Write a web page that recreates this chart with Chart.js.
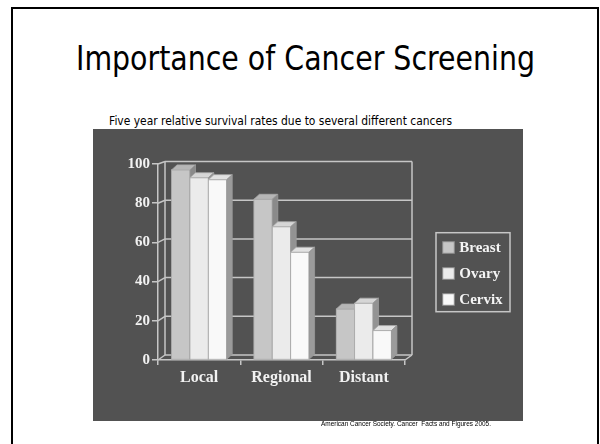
<!DOCTYPE html>
<html><head><meta charset="utf-8">
<script src="https://cdn.jsdelivr.net/npm/chart.js@4"></script>
<style>
html,body{margin:0;padding:0;background:#fff;width:600px;height:444px;overflow:hidden}
#frame{position:absolute;left:11px;top:7px;width:584px;height:470px;border:2px solid #000;box-sizing:content-box}
.t{position:absolute;white-space:nowrap;transform-origin:0 0;line-height:1;color:#000}
#title{font-family:"DejaVu Sans";font-size:33px;left:76px;top:42px}
#sub{font-family:"DejaVu Sans";font-size:11.4px;left:109px;top:116px}
#src{font-family:"Liberation Sans";font-size:7px;left:321px;top:420px}
#panel{position:absolute;left:93px;top:129px;width:430px;height:292px;background:#525252}
canvas{display:block}
</style></head>
<body>
<div id="frame"></div>
<div class="t" id="title" data-w="459">Importance of Cancer Screening</div>
<div class="t" id="sub" data-w="343">Five year relative survival rates due to several different cancers</div>
<div id="panel"><canvas id="c" width="430" height="292"></canvas></div>
<div class="t" id="src" data-w="170">American Cancer Society. Cancer&nbsp; Facts and Figures 2005.</div>
<script>
// ---- data ----
const categories = ['Local', 'Regional', 'Distant'];
const seriesNames = ['Breast', 'Ovary', 'Cervix'];
const breast = [97, 82, 26];
const ovary = [93, 68, 29];
const cervix = [92, 55, 15];
const yTickValues = [0, 20, 40, 60, 80, 100];

// ---- styles ----
const frontColors = ['#c6c6c6', '#ebebeb', '#f9f9f9'];
const topColors = ['#b6b6b6', '#d6d6d6', '#e2e2e2'];
const sideColors = ['#8a8a8a', '#939393', '#9b9b9b'];
const LINE = '#c6c6c6';
const WALL = {dx: 7, dyTop: -2.5, dyBot: -5};
const BAR = {dx: 5.5, dy: -5};

function fitTexts(){
  document.querySelectorAll('.t').forEach(el => {
    el.style.transform = 'none';
    const nat = el.getBoundingClientRect().width;
    el.style.transform = 'scaleX(' + (+el.dataset.w / nat) + ')';
  });
}
fitTexts();
if (document.fonts && document.fonts.ready) document.fonts.ready.then(fitTexts);

function backY(scale, v){
  const f = scale.getPixelForValue(v);
  const t = (v - scale.min) / (scale.max - scale.min);
  return f + WALL.dyBot + (WALL.dyTop - WALL.dyBot) * t;
}
function line(ctx, x1, y1, x2, y2){ ctx.beginPath(); ctx.moveTo(x1, y1); ctx.lineTo(x2, y2); ctx.stroke(); }
function poly(ctx, pts, fill, stroke){
  ctx.beginPath(); ctx.moveTo(pts[0][0], pts[0][1]);
  for (let i = 1; i < pts.length; i++) ctx.lineTo(pts[i][0], pts[i][1]);
  ctx.closePath(); ctx.fillStyle = fill; ctx.fill();
  if (stroke){ ctx.strokeStyle = stroke; ctx.stroke(); }
}

const walls = {
  id: 'walls',
  beforeDatasetsDraw(chart){
    const {ctx, chartArea: a, scales: {y}} = chart;
    ctx.save();
    ctx.strokeStyle = LINE; ctx.lineWidth = 1.5;
    const bl = a.left + WALL.dx, br = a.right + WALL.dx;
    y.ticks.forEach(t => {
      const yb = backY(y, t.value), yf = y.getPixelForValue(t.value);
      line(ctx, bl, yb, br, yb);
      line(ctx, a.left, yf, bl, yb);
    });
    line(ctx, bl, backY(y, y.max), bl, backY(y, y.min));
    line(ctx, br, backY(y, y.max), br, backY(y, y.min));
    line(ctx, a.right, a.bottom, br, backY(y, y.min));
    ctx.restore();
  }
};

const bars3d = {
  id: 'bars3d',
  afterDatasetsDraw(chart){
    const ctx = chart.ctx;
    const metas = chart.data.datasets.map((d, i) => chart.getDatasetMeta(i));
    ctx.save();
    ctx.lineWidth = 0.8;
    for (let i = 0; i < chart.data.labels.length; i++){
      metas.forEach((m, di) => {
        const p = m.data[i].getProps(['x', 'y', 'base', 'width'], true);
        const l = p.x - p.width / 2, r = p.x + p.width / 2;
        ctx.fillStyle = frontColors[di];
        ctx.fillRect(l, p.y, p.width, p.base - p.y);
        ctx.strokeStyle = '#aaaaaa';
        ctx.strokeRect(l, p.y, p.width, p.base - p.y);
        poly(ctx, [[l, p.y], [l + BAR.dx, p.y + BAR.dy], [r + BAR.dx, p.y + BAR.dy], [r, p.y]], topColors[di], '#aaaaaa');
        poly(ctx, [[r, p.y], [r + BAR.dx, p.y + BAR.dy], [r + BAR.dx, p.base + BAR.dy], [r, p.base]], sideColors[di], '#9a9a9a');
      });
    }
    ctx.restore();
  }
};

const boxLegend = {
  id: 'boxLegend',
  afterDraw(chart){
    const {ctx, chartArea: a} = chart;
    const lx = a.right + 31, ly = a.top + 68.7, lw = 74, lh = 79;
    ctx.save();
    ctx.strokeStyle = LINE; ctx.lineWidth = 1.5;
    ctx.strokeRect(lx, ly, lw, lh);
    ctx.font = 'bold 15px "Liberation Serif"';
    ctx.textBaseline = 'middle';
    chart.data.datasets.forEach((ds, i) => {
      const cy = ly + 14.8 + i * 26;
      ctx.fillStyle = ds.backgroundColor;
      ctx.fillRect(lx + 6.7, cy - 5.8, 11.6, 11.6);
      ctx.strokeStyle = '#8a8a8a'; ctx.lineWidth = 1;
      ctx.strokeRect(lx + 6.7, cy - 5.8, 11.6, 11.6);
      ctx.fillStyle = '#f4f4f4';
      ctx.fillText(ds.label, lx + 23.3, cy + 1);
    });
    ctx.restore();
  }
};

const tickFont = {family: '"Liberation Serif"', weight: 'bold'};
new Chart(document.getElementById('c'), {
  type: 'bar',
  data: {
    labels: categories,
    datasets: [
      {label: seriesNames[0], data: breast, backgroundColor: frontColors[0]},
      {label: seriesNames[1], data: ovary, backgroundColor: frontColors[1]},
      {label: seriesNames[2], data: cervix, backgroundColor: frontColors[2]}
    ]
  },
  options: {
    responsive: false,
    animation: false,
    devicePixelRatio: 1,
    categoryPercentage: 0.67,
    barPercentage: 1,
    layout: {padding: {left: 0, top: 35, right: 118, bottom: 0}},
    plugins: {legend: {display: false}, tooltip: {enabled: false}},
    scales: {
      x: {
        grid: {display: true, offset: true, drawOnChartArea: false, drawTicks: true, tickLength: 5, color: LINE, lineWidth: 1.5},
        border: {display: true, color: LINE, width: 1.5},
        ticks: {color: '#f2f2f2', font: Object.assign({size: 16}, tickFont), padding: 3},
        afterFit(s){ s.height = 61; }
      },
      y: {
        min: 0, max: 100,
        afterBuildTicks(s){ s.ticks = yTickValues.map(v => ({value: v})); },
        grid: {drawOnChartArea: false, drawTicks: true, tickLength: 6, color: LINE, lineWidth: 1.5},
        border: {display: true, color: LINE, width: 1.5},
        ticks: {color: '#f2f2f2', font: Object.assign({size: 15}, tickFont), padding: 2},
        afterFit(s){ s.width = 65; }
      }
    }
  },
  plugins: [walls, bars3d, boxLegend]
});
</script>
</body></html>
